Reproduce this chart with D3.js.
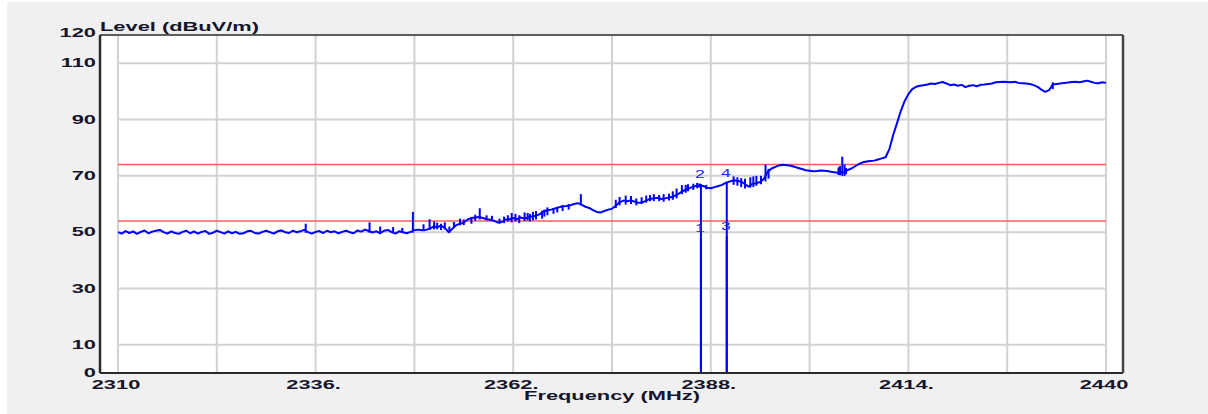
<!DOCTYPE html>
<html>
<head>
<meta charset="utf-8">
<script src="https://cdn.jsdelivr.net/npm/d3@7"></script>
<style>
  html, body { margin: 0; padding: 0; background: #ffffff; }
  svg { display: block; }
  .lbl { font-family: "Liberation Sans", Arial, sans-serif; font-weight: bold; font-size: 13px; fill: #15152c; }
  .mk { font-family: "Liberation Sans", Arial, sans-serif; font-size: 10px; fill: #2020ff; }
</style>
</head>
<body>
<script>
// Sweep: 2310–2440 MHz, one reading every 0.5 MHz (dBuV/m)
const freqStart = 2310;
const freqStep = 0.5;
const levels = [
  50.0, 49.5, 50.4, 49.7, 50.3, 49.4, 50.1, 50.6, 49.6, 50.2,
  50.5, 50.8, 50.0, 49.5, 50.3, 49.7, 49.4, 50.1, 50.5, 49.6,
  50.3, 49.5, 50.1, 50.4, 49.4, 49.8, 50.5, 50.0, 49.5, 50.3,
  49.6, 50.1, 49.4, 49.6, 50.3, 50.5, 49.7, 49.5, 50.1, 50.5,
  50.0, 49.5, 50.3, 50.6, 50.0, 49.7, 50.5, 50.0, 50.3, 50.8,
  50.0, 49.5, 50.1, 50.4, 49.7, 50.5, 50.0, 50.3, 49.6, 50.1,
  50.5, 50.0, 49.6, 50.6, 50.2, 50.9, 50.4, 49.9, 50.3, 49.6,
  50.5, 50.8, 50.0, 49.5, 50.3, 50.0, 49.6, 50.1, 50.7, 50.9,
  50.7, 50.8, 51.2, 52.0, 51.8, 52.3, 51.5, 50.0, 51.2, 52.5,
  53.0, 53.4, 54.5, 55.0, 55.2, 55.4, 55.0, 54.6, 54.4, 54.0,
  53.4, 53.6, 54.5, 54.6, 55.0, 54.6, 55.2, 54.8, 55.3, 55.6,
  55.8, 56.4, 57.4, 57.8, 58.0, 58.4, 58.8, 59.2, 59.3, 59.5,
  60.0, 60.3, 59.8, 59.0, 58.6, 57.8, 57.2, 57.0, 57.5, 58.0,
  58.3, 59.4, 60.6, 61.2, 61.0, 61.3, 60.8, 60.4, 60.6, 61.2,
  61.8, 62.0, 62.2, 61.8, 62.0, 62.3, 62.6, 63.2, 64.0, 64.8,
  65.4, 66.0, 66.4, 66.6, 66.4, 65.8, 65.6, 66.0, 66.4, 66.8,
  67.6, 68.0, 68.4, 68.2, 68.0, 67.0, 66.2, 67.2, 67.4, 67.8,
  69.0, 71.5, 72.6, 73.2, 73.7, 73.9, 73.8, 73.6, 73.2, 72.8,
  72.4, 72.0, 71.8, 71.6, 71.7, 71.9, 71.8, 71.6, 71.4, 71.2,
  71.0, 71.4, 72.0, 72.6, 73.4, 74.2, 74.8, 75.1, 75.3, 75.4,
  75.8, 76.2, 76.6, 79.5, 84.5, 88.7, 93.0, 96.5, 99.0, 100.8,
  101.6, 102.0, 102.2, 102.4, 102.8, 102.6, 103.0, 103.3, 102.8, 102.2,
  102.4, 102.0, 102.3, 101.5, 102.0, 102.2, 101.8, 102.3, 102.4, 102.6,
  102.8, 103.2, 103.3, 103.4, 103.3, 103.2, 103.4, 103.0, 102.9, 102.8,
  102.6, 102.2, 101.6, 100.6, 99.8, 100.4, 102.4, 102.6, 102.8, 103.0,
  103.1, 103.3, 103.4, 103.2, 103.5, 103.8, 103.4, 103.0, 102.9, 103.2,
  103.0
];

// Short-lived peaks captured by the sweep: [MHz, low dBuV/m, high dBuV/m]
const bursts = [
  [2334.7, 49.8, 53.0], [2343.1, 49.8, 53.5], [2344.5, 50.0, 52.0],
  [2346.2, 50.0, 51.8], [2347.4, 49.8, 51.5], [2348.8, 49.8, 57.2],
  [2350.2, 50.5, 52.8], [2351.0, 50.8, 54.6], [2351.6, 51.0, 53.8],
  [2352.0, 51.0, 53.4], [2352.5, 50.8, 53.0], [2353.0, 51.0, 53.5],
  [2353.6, 49.8, 52.0], [2354.2, 51.5, 53.6], [2355.0, 52.5, 54.8],
  [2355.5, 52.5, 54.5], [2356.5, 53.0, 55.4], [2357.0, 54.0, 56.2],
  [2357.6, 54.5, 58.5], [2358.5, 54.2, 56.0], [2359.2, 54.0, 55.8],
  [2360.2, 53.0, 54.8], [2360.8, 53.2, 55.5], [2361.3, 53.8, 56.0],
  [2361.8, 53.5, 56.8], [2362.3, 53.8, 56.5], [2362.8, 53.2, 56.0],
  [2363.5, 54.0, 57.0], [2363.9, 54.2, 56.8], [2364.2, 53.8, 56.5],
  [2364.6, 54.2, 57.2], [2365.0, 54.5, 57.5], [2365.8, 54.8, 57.6],
  [2366.1, 55.5, 58.0], [2366.5, 56.0, 58.8], [2367.3, 56.5, 58.6],
  [2367.8, 57.0, 59.0], [2368.5, 57.5, 59.5], [2369.3, 58.0, 60.0],
  [2370.9, 59.5, 63.5], [2375.5, 58.6, 61.5], [2376.0, 59.5, 62.5],
  [2376.8, 59.8, 63.0], [2377.5, 60.0, 62.8], [2378.2, 59.5, 62.0],
  [2378.9, 60.0, 62.4], [2379.5, 60.5, 63.0], [2380.0, 61.0, 63.2],
  [2380.5, 61.0, 63.5], [2381.2, 61.0, 63.2], [2381.8, 60.8, 63.5],
  [2382.5, 61.2, 63.6], [2383.0, 61.5, 64.5], [2383.5, 62.0, 65.5],
  [2384.2, 63.5, 66.7], [2384.7, 64.0, 66.8], [2385.0, 64.5, 67.0],
  [2385.7, 65.0, 67.2], [2386.2, 65.6, 67.5], [2386.5, 65.8, 67.3],
  [2387.4, 65.2, 66.8], [2391.0, 66.8, 69.8], [2391.5, 66.5, 69.5],
  [2392.0, 66.0, 69.2], [2392.5, 65.5, 69.0], [2393.2, 65.8, 69.5],
  [2393.6, 66.0, 69.8], [2394.0, 66.5, 70.0], [2394.6, 67.0, 70.0],
  [2395.2, 68.0, 74.0], [2395.6, 69.0, 72.5], [2404.8, 70.3, 73.0],
  [2405.0, 70.2, 73.5], [2405.3, 70.0, 76.8], [2405.6, 70.0, 74.0],
  [2405.8, 70.6, 72.8], [2433.0, 100.8, 103.2]
];

// Limits (peak / average), dBuV/m
const limits = [74, 54];

// Markers
const markerIds = ["1", "2", "3", "4"];
const markerFreqs = [2386.7, 2386.7, 2390.1, 2390.1];
const markerLevels = [47.9, 67.1, 48.6, 67.6];

// Axes
const yTickValues = [0, 10, 30, 50, 70, 90, 110, 120];
const yGridValues = [10, 30, 50, 70, 90, 110];
const xTickValues = [2310, 2336, 2362, 2388, 2414, 2440];
const xTickLabels = ["2310", "2336.", "2362.", "2388.", "2414.", "2440"];
const xGridValues = [2310, 2323, 2336, 2349, 2362, 2375, 2388, 2401, 2414, 2427, 2440];

const W = 1208, H = 414;
const stretch = 1.68;  // wide raster-style lettering

const svg = d3.select("body").append("svg").attr("width", W).attr("height", H);

// window background
svg.append("rect").attr("x", 7).attr("y", 2).attr("width", W - 7).attr("height", H - 2).attr("fill", "#f0f0f0");

const x = d3.scaleLinear().domain([2310, 2440]).range([118, 1106]);
const y = d3.scaleLinear().domain([0, 120]).range([373, 35]);

// plot panel
const panel = { x0: 100, x1: 1123 };
svg.append("rect")
  .attr("x", panel.x0).attr("y", y(120))
  .attr("width", panel.x1 - panel.x0).attr("height", y(0) - y(120))
  .attr("fill", "#ffffff");

// grid
const grid = svg.append("g").attr("stroke", "#d2d2d2").attr("stroke-width", 2);
grid.selectAll("line.v").data(xGridValues).join("line").attr("class", "v")
  .attr("x1", d => x(d)).attr("x2", d => x(d)).attr("y1", y(120)).attr("y2", y(0));
grid.selectAll("line.h").data(yGridValues).join("line").attr("class", "h")
  .attr("x1", x(2310)).attr("x2", x(2440)).attr("y1", d => y(d)).attr("y2", d => y(d));

// limit lines
svg.append("g").selectAll("line").data(limits).join("line")
  .attr("x1", x(2310)).attr("x2", x(2440))
  .attr("y1", d => y(d)).attr("y2", d => y(d))
  .attr("stroke", "#ff5c5c").attr("stroke-width", 1.5);

// trace
const trace = levels.map((v, i) => [freqStart + i * freqStep, v]);
svg.append("path").datum(trace)
  .attr("fill", "none").attr("stroke", "#0000ff").attr("stroke-width", 2)
  .attr("stroke-linejoin", "round")
  .attr("d", d3.line().x(d => x(d[0])).y(d => y(d[1])));

svg.append("g").selectAll("line").data(bursts).join("line")
  .attr("x1", d => x(d[0])).attr("x2", d => x(d[0]))
  .attr("y1", d => y(d[1])).attr("y2", d => y(d[2]))
  .attr("stroke", "#0000ff").attr("stroke-width", 2);

// markers
const markers = markerIds.map((id, i) => ({ id, f: markerFreqs[i], v: markerLevels[i] }));
svg.append("g").selectAll("line").data(markers).join("line")
  .attr("x1", d => x(d.f)).attr("x2", d => x(d.f))
  .attr("y1", d => y(d.v)).attr("y2", y(0))
  .attr("stroke", "#0000ff").attr("stroke-width", 2);
svg.append("g").selectAll("text").data(markers).join("text")
  .attr("class", "mk")
  .attr("text-anchor", "middle")
  .attr("transform", d => `translate(${x(d.f) - 1},${y(d.v) - 6}) scale(1.75,1)`)
  .text(d => d.id);

// frame
const frame = svg.append("g").attr("stroke", "#2a2a2a").attr("fill", "none");
frame.append("line").attr("x1", panel.x0).attr("x2", panel.x1).attr("y1", y(120)).attr("y2", y(120)).attr("stroke-width", 1.5);
frame.append("line").attr("x1", panel.x0).attr("x2", panel.x1).attr("y1", y(0)).attr("y2", y(0)).attr("stroke-width", 2);
frame.append("line").attr("x1", panel.x0).attr("x2", panel.x0).attr("y1", y(120)).attr("y2", y(0)).attr("stroke-width", 2.5);
frame.append("line").attr("x1", panel.x1).attr("x2", panel.x1).attr("y1", y(120)).attr("y2", y(0)).attr("stroke", "#444").attr("stroke-width", 2.5);

// y tick labels (end values kept inside the label column)
const yLabelShift = d => (d === 0 ? 4 : d === 120 ? 2 : 4);
svg.append("g").selectAll("text").data(yTickValues).join("text")
  .attr("class", "lbl").attr("text-anchor", "end")
  .attr("transform", d => `translate(96,${y(d) + yLabelShift(d)}) scale(${stretch},1)`)
  .text(d => d);

// x tick labels
svg.append("g").selectAll("text").data(xTickValues).join("text")
  .attr("class", "lbl").attr("text-anchor", "middle")
  .attr("transform", d => `translate(${x(d) - 2},389) scale(${stretch},1)`)
  .text((d, i) => xTickLabels[i]);

// axis titles
svg.append("text").attr("class", "lbl")
  .attr("transform", `translate(100,31) scale(${stretch},1)`)
  .text("Level (dBuV/m)");
svg.append("text").attr("class", "lbl").attr("text-anchor", "middle")
  .attr("transform", `translate(612,400) scale(${stretch},1)`)
  .text("Frequency (MHz)");
</script>
</body>
</html>
